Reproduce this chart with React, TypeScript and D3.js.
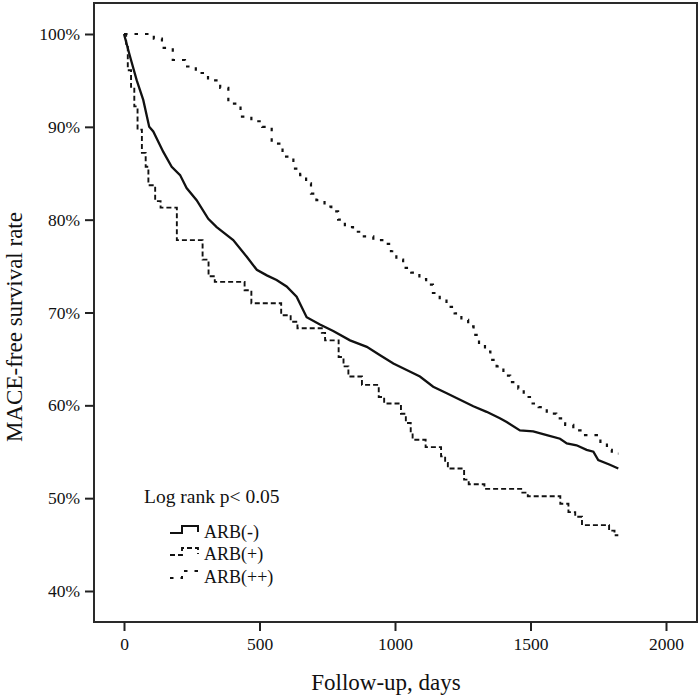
import React, { useEffect, useRef } from "react";
import * as d3 from "d3";

// ---- Data ----
const xTicks = [0, 500, 1000, 1500, 2000];
const yTicks = [0.4, 0.5, 0.6, 0.7, 0.8, 0.9, 1.0];

const seriesNames = ["ARB(-)", "ARB(+)", "ARB(++)"];

// ARB(-): solid line, fine steps (traced points)
const arbNoneDays = [0, 22, 47, 71, 93, 108, 145, 176, 207, 231, 268, 311, 342, 403, 453, 490, 527, 563, 600, 637, 674, 723, 772, 834, 896, 945, 994, 1043, 1092, 1141, 1191, 1240, 1289, 1338, 1387, 1412, 1461, 1510, 1560, 1609, 1634, 1670, 1707, 1732, 1750, 1793, 1824];
const arbNoneSurv = [1.0, 0.976, 0.95, 0.929, 0.9, 0.895, 0.873, 0.857, 0.848, 0.834, 0.821, 0.801, 0.792, 0.778, 0.76, 0.746, 0.74, 0.735, 0.728, 0.717, 0.695, 0.687, 0.68, 0.67, 0.663, 0.654, 0.645, 0.638, 0.631, 0.62, 0.613, 0.606, 0.599, 0.593, 0.586, 0.582, 0.573, 0.572, 0.568, 0.564, 0.559, 0.557, 0.552, 0.55, 0.541, 0.536, 0.532];

// ARB(+): dashed step curve
const arbPlusDays = [0, 8, 14, 26, 38, 50, 66, 80, 90, 115, 135, 195, 290, 312, 335, 445, 470, 580, 615, 640, 730, 742, 792, 810, 828, 878, 940, 960, 1022, 1040, 1058, 1065, 1113, 1170, 1185, 1195, 1255, 1272, 1330, 1470, 1490, 1610, 1640, 1665, 1690, 1790, 1810, 1824];
const arbPlusSurv = [1.0, 0.986, 0.961, 0.943, 0.922, 0.897, 0.872, 0.857, 0.837, 0.82, 0.813, 0.778, 0.757, 0.739, 0.733, 0.724, 0.71, 0.697, 0.69, 0.683, 0.678, 0.67, 0.652, 0.642, 0.631, 0.622, 0.609, 0.602, 0.591, 0.581, 0.57, 0.563, 0.555, 0.545, 0.538, 0.532, 0.52, 0.515, 0.51, 0.506, 0.502, 0.494, 0.485, 0.48, 0.471, 0.465, 0.46, 0.46];

// ARB(++): sparse dashed step curve
const arbPlusPlusDays = [0, 110, 140, 180, 225, 265, 310, 355, 385, 430, 470, 510, 545, 585, 625, 650, 672, 690, 710, 740, 765, 790, 815, 845, 885, 920, 960, 985, 1005, 1030, 1060, 1090, 1115, 1140, 1165, 1190, 1220, 1245, 1270, 1290, 1310, 1332, 1352, 1375, 1400, 1425, 1455, 1475, 1498, 1530, 1560, 1595, 1628, 1658, 1690, 1758, 1782, 1800, 1824];
const arbPlusPlusSurv = [1.0, 0.995, 0.985, 0.972, 0.965, 0.958, 0.95, 0.942, 0.925, 0.911, 0.906, 0.9, 0.882, 0.868, 0.855, 0.848, 0.839, 0.828, 0.821, 0.814, 0.809, 0.8, 0.792, 0.787, 0.782, 0.778, 0.774, 0.766, 0.757, 0.748, 0.743, 0.736, 0.73, 0.721, 0.714, 0.706, 0.699, 0.692, 0.685, 0.676, 0.665, 0.658, 0.649, 0.642, 0.632, 0.625, 0.618, 0.609, 0.602, 0.598, 0.591, 0.586, 0.579, 0.573, 0.568, 0.559, 0.552, 0.548, 0.548];

const FONT = "'Liberation Serif', 'Times New Roman', serif";
const W = 700;
const H = 697;
const frame = { left: 94, top: 3, right: 697, bottom: 622 };

export default function App() {
  const xAxisRef = useRef<SVGGElement>(null);
  const yAxisRef = useRef<SVGGElement>(null);

  const x = d3.scaleLinear().domain([0, 2000]).range([124, 666]);
  const y = d3.scaleLinear().domain([0.4, 1.0]).range([591, 34]);

  useEffect(() => {
    document.body.style.margin = "0";
    if (xAxisRef.current) {
      const g = d3.select(xAxisRef.current);
      g.call(d3.axisBottom(x).tickValues(xTicks).tickFormat(d3.format("d")).tickSize(9).tickPadding(7) as any);
      g.select(".domain").remove();
      g.selectAll("line").attr("stroke", "#222").attr("stroke-width", 2);
      g.selectAll("text").attr("font-family", FONT).attr("font-size", 17.5).attr("fill", "#111");
    }
    if (yAxisRef.current) {
      const g = d3.select(yAxisRef.current);
      g.call(d3.axisLeft(y).tickValues(yTicks).tickFormat(d3.format(".0%")).tickSize(9).tickPadding(5) as any);
      g.select(".domain").remove();
      g.selectAll("line").attr("stroke", "#222").attr("stroke-width", 2);
      g.selectAll("text").attr("font-family", FONT).attr("font-size", 17.5).attr("fill", "#111");
    }
  }, []);

  const mk = (days: number[], surv: number[]) => days.map((d, i) => [d, surv[i]] as [number, number]);
  const linear = d3.line<[number, number]>().x((d) => x(d[0])).y((d) => y(d[1])).curve(d3.curveLinear);
  const step = d3.line<[number, number]>().x((d) => x(d[0])).y((d) => y(d[1])).curve(d3.curveStepAfter);

  const series = [
    { name: seriesNames[0], path: linear(mk(arbNoneDays, arbNoneSurv)), dash: "none", width: 2.3 },
    { name: seriesNames[1], path: step(mk(arbPlusDays, arbPlusSurv)), dash: "5,3", width: 1.9 },
    { name: seriesNames[2], path: step(mk(arbPlusPlusDays, arbPlusPlusSurv)), dash: "3.5,7", width: 2.2 },
  ];

  const legendRows = [532, 554, 577];

  return (
    <svg width={W} height={H} style={{ display: "block", position: "absolute", left: 0, top: 0, background: "#fff" }}>
      <rect x={0} y={0} width={W} height={H} fill="#fff" />
      <rect
        x={frame.left}
        y={frame.top}
        width={frame.right - frame.left}
        height={frame.bottom - frame.top}
        fill="none"
        stroke="#2a2a2a"
        strokeWidth={2}
      />
      <g ref={yAxisRef} transform={`translate(${frame.left},0)`} />
      <g ref={xAxisRef} transform={`translate(0,${frame.bottom})`} />

      {series.map((s) => (
        <path key={s.name} d={s.path || ""} fill="none" stroke="#111" strokeWidth={s.width} strokeDasharray={s.dash} />
      ))}

      <text x={144} y={503} fontFamily={FONT} fontSize={19.5} fill="#111">
        Log rank p&lt; 0.05
      </text>
      {series.map((s, i) => {
        const yc = legendRows[i];
        return (
          <g key={"leg" + s.name}>
            <path
              d={`M170,${yc + 1}H182V${yc - 6}H198V${yc}`}
              fill="none"
              stroke="#111"
              strokeWidth={Math.min(s.width, 2)}
              strokeDasharray={s.dash}
            />
            <text x={204} y={yc + 6} fontFamily={FONT} fontSize={18} fill="#111">
              {s.name}
            </text>
          </g>
        );
      })}

      <text x={386} y={690} textAnchor="middle" fontFamily={FONT} fontSize={23} fill="#111">
        Follow-up, days
      </text>
      <text
        transform={`translate(22,327) rotate(-90)`}
        textAnchor="middle"
        fontFamily={FONT}
        fontSize={23}
        fill="#111"
      >
        MACE-free survival rate
      </text>
    </svg>
  );
}
